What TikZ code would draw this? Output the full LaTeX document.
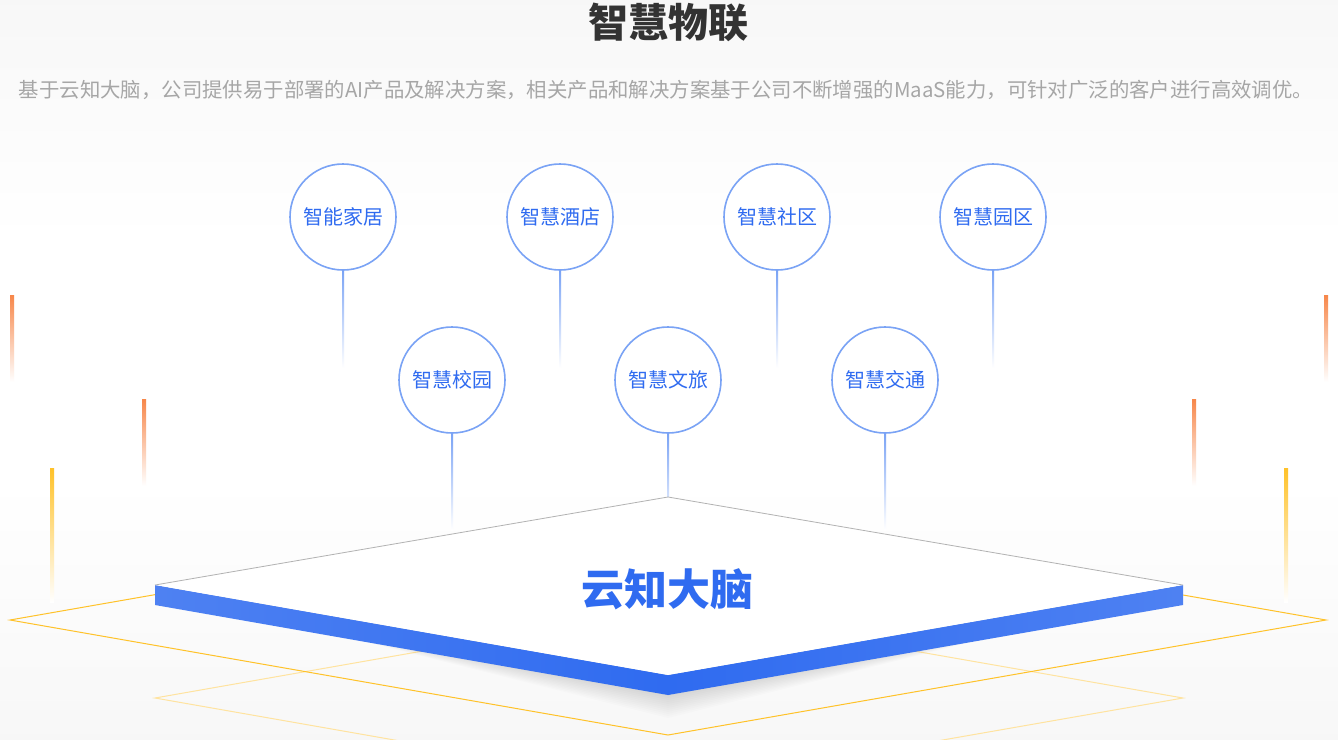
\documentclass[tikz,border=0pt]{standalone}
\usepackage{fontspec}
\setmainfont{Noto Sans CJK SC}
\definecolor{cblue}{HTML}{2F6BF0}
\definecolor{cring}{HTML}{7AA3F5}
\definecolor{gold}{HTML}{FFC229}
\definecolor{orng}{HTML}{F7874A}
\tikzset{
 bubble/.style={circle,draw=cring,line width=1.6pt,fill=white,minimum size=106pt,inner sep=0,font=\fontsize{20}{20}\selectfont,text=cblue},
 stem/.style={draw=none,top color=cring,bottom color=white},
}
\begin{document}
\begin{tikzpicture}[x=1pt,y=-1pt]
\shade[top color=black!3,bottom color=white,middle color=white] (0,0) rectangle (1338,480);
\shade[top color=white,bottom color=black!3] (0,480) rectangle (1338,739);
\useasboundingbox (0,0) rectangle (1338,739);
\node[font=\fontsize{40}{40}\selectfont\bfseries,text=black!80] (title) at (668,22) {智慧物联};
\node[font=\fontsize{20.4}{20.4}\selectfont,text=black!35] (sub) at (666,90) {基于云知大脑，公司提供易于部署的AI产品及解决方案，相关产品和解决方案基于公司不断增强的MaaS能力，可针对广泛的客户进行高效调优。};
% bars
\foreach \x/\a/\b/\c in {12/295/382/orng,144/399/486/orng,52/468/602/gold,1326/295/382/orng,1194/399/486/orng,1286/468/602/gold}
  \shade[top color=\c,bottom color=white] (\x-2,\a) rectangle (\x+2,\b);
% gold diamonds
\begin{scope}
\clip (0,0) rectangle (1338,739);
\draw[gold!45,line width=1pt] (155,698) -- (668,608) -- (1183,698) -- (668,788) -- cycle;
\draw[gold,line width=1pt] (10,620) -- (668,505) -- (1326,620) -- (668,735) -- cycle;
\end{scope}
% stems
\foreach \x/\a/\b in {343/270/368,560/270/368,777/270/368,993/270/368,452/433/530,668/433/530,885/433/530}
  \shade[stem] (\x-1,\a) rectangle (\x+1,\b);
% soft shadow
\foreach \d in {2,4,...,24}
  \fill[black,opacity=0.012] (175+\d,600) -- (668,530) -- (1163-\d,600) -- (668,694+\d) -- cycle;
\shade[left color=cblue!85,right color=cblue] (155,585) -- (668,675) -- (668,695) -- (155,605) -- cycle;
\shade[left color=cblue,right color=cblue!85] (1183,585) -- (668,675) -- (668,695) -- (1183,605) -- cycle;
\fill[white] (155,585) -- (668,497) -- (1183,585) -- (668,675) -- cycle;
\draw[black!30,line width=0.8pt] (155,585) -- (668,497) -- (1183,585);
\node[font=\fontsize{43}{43}\selectfont\bfseries,text=cblue] (core) at (667,589) {云知大脑};
% bubbles
\node[bubble] (b1) at (343,217) {智能家居};
\node[bubble] (b2) at (560,217) {智慧酒店};
\node[bubble] (b3) at (777,217) {智慧社区};
\node[bubble] (b4) at (993,217) {智慧园区};
\node[bubble] (b5) at (452,380) {智慧校园};
\node[bubble] (b6) at (668,380) {智慧文旅};
\node[bubble] (b7) at (885,380) {智慧交通};
\end{tikzpicture}
\end{document}
